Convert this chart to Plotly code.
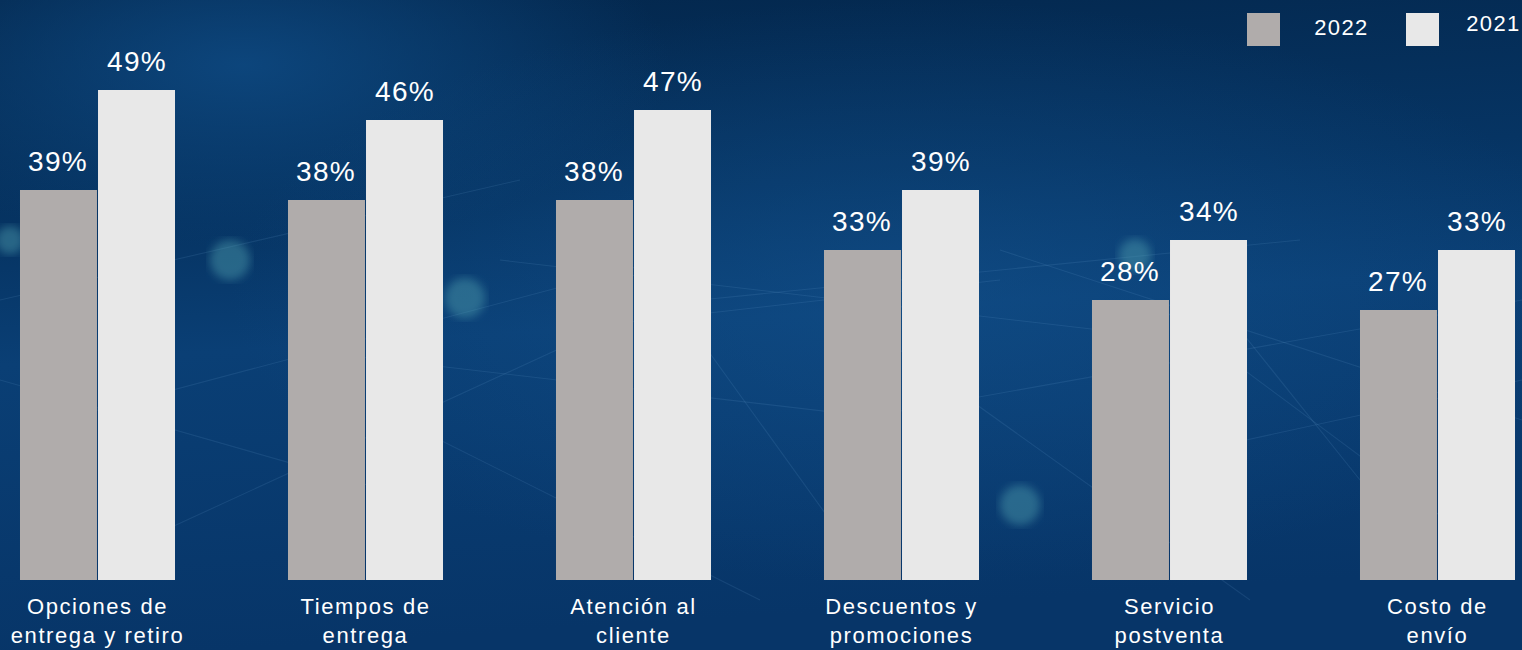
import base64
import plotly.graph_objects as go

# ---------------- data ----------------
categories = [
    "Opciones de<br>entrega y retiro",
    "Tiempos de<br>entrega",
    "Atención al<br>cliente",
    "Descuentos y<br>promociones",
    "Servicio<br>postventa",
    "Costo de<br>envío",
]
series_names = ["2022", "2021"]
values_2022 = [39, 38, 38, 33, 28, 27]
values_2021 = [49, 46, 47, 39, 34, 33]

# ---------------- style ----------------
COL_2022 = "#b0acab"
COL_2021 = "#e8e8e8"
FONT = "Liberation Sans, Arial, sans-serif"
W, H = 1522, 650
BAR_W = 0.2873
GAP = 0.0019

# decorative background (gradient + faint network), as an inline svg image
lines = [
    (0, 300, 520, 180), (60, 420, 700, 250), (300, 350, 900, 420), (500, 260, 1100, 330),
    (700, 300, 1300, 240), (850, 420, 1522, 300), (1000, 250, 1522, 420), (1150, 300, 1500, 560),
    (400, 420, 760, 600), (900, 350, 1250, 600), (100, 560, 600, 330), (1200, 450, 1522, 380),
    (650, 270, 830, 520), (1240, 330, 1360, 480), (0, 380, 420, 500), (560, 330, 1000, 280),
]
line_svg = "".join(
    f"<line x1='{a}' y1='{b}' x2='{c}' y2='{d}' stroke='#7fb0e0' stroke-opacity='0.13' stroke-width='1.1'/>"
    for a, b, c, d in lines
)
dots = [(230, 260, 20), (465, 298, 20), (1020, 505, 20), (1135, 255, 16), (10, 240, 14)]
dot_svg = "".join(
    f"<circle cx='{x}' cy='{y}' r='{r}' fill='#4f9fb0' fill-opacity='0.45' filter='url(#b)'/>"
    for x, y, r in dots
)
svg = f"""<svg xmlns='http://www.w3.org/2000/svg' width='{W}' height='{H}' viewBox='0 0 {W} {H}'>
<defs>
<linearGradient id='g' x1='0' y1='0' x2='0.15' y2='1'>
<stop offset='0' stop-color='#03264b'/>
<stop offset='0.35' stop-color='#063463'/>
<stop offset='0.55' stop-color='#0a3f75'/>
<stop offset='1' stop-color='#073568'/>
</linearGradient>
<radialGradient id='r1' cx='0.16' cy='0.1' r='0.28'>
<stop offset='0' stop-color='#0e4a83' stop-opacity='0.85'/>
<stop offset='1' stop-color='#0e4a83' stop-opacity='0'/>
</radialGradient>
<radialGradient id='r2' cx='0.6' cy='0.45' r='0.45'>
<stop offset='0' stop-color='#145490' stop-opacity='0.5'/>
<stop offset='1' stop-color='#145490' stop-opacity='0'/>
</radialGradient>
<filter id='b'><feGaussianBlur stdDeviation='4'/></filter>
</defs>
<rect width='{W}' height='{H}' fill='url(#g)'/>
<rect width='{W}' height='{H}' fill='url(#r1)'/>
<rect width='{W}' height='{H}' fill='url(#r2)'/>
{line_svg}
{dot_svg}
</svg>"""
bg_uri = "data:image/svg+xml;base64," + base64.b64encode(svg.encode()).decode()

x_idx = list(range(len(categories)))

fig = go.Figure()
fig.add_trace(go.Bar(
    x=x_idx, y=values_2022, name=series_names[0], marker_color=COL_2022,
    marker_line_width=0, width=BAR_W, offset=-BAR_W - GAP, hoverinfo="skip",
))
fig.add_trace(go.Bar(
    x=x_idx, y=values_2021, name=series_names[1], marker_color=COL_2021,
    marker_line_width=0, width=BAR_W, offset=GAP, hoverinfo="skip",
))

annotations = []
for i in x_idx:
    for val, off in ((values_2022[i], -BAR_W / 2 - GAP), (values_2021[i], BAR_W / 2 + GAP)):
        annotations.append(dict(
            x=i + off, y=val, xref="x", yref="y", text=f"{val}%", showarrow=False,
            yanchor="bottom", xanchor="center", yshift=11,
            font=dict(family=FONT, size=28, color="white"),
        ))

# custom legend (large squares)
plot_h = 580
def py(px):
    return 1 - px / plot_h

shapes = [
    dict(type="rect", xref="paper", yref="paper", x0=1247 / W, x1=1280 / W,
         y0=py(46), y1=py(13), fillcolor=COL_2022, line_width=0, layer="above"),
    dict(type="rect", xref="paper", yref="paper", x0=1406 / W, x1=1439 / W,
         y0=py(46), y1=py(13), fillcolor=COL_2021, line_width=0, layer="above"),
]
annotations.append(dict(x=1341 / W, y=py(28), xref="paper", yref="paper", text=series_names[0],
                        showarrow=False, xanchor="center", yanchor="middle",
                        font=dict(family=FONT, size=22, color="white")))
annotations.append(dict(x=1493 / W, y=py(23), xref="paper", yref="paper", text=series_names[1],
                        showarrow=False, xanchor="center", yanchor="middle",
                        font=dict(family=FONT, size=22, color="white")))

fig.update_layout(
    width=W, height=H,
    margin=dict(l=0, r=0, t=0, b=70, pad=0),
    paper_bgcolor="#073466",
    plot_bgcolor="rgba(0,0,0,0)",
    barmode="overlay",
    showlegend=False,
    hovermode=False,
    shapes=shapes,
    annotations=annotations,
    images=[dict(source=bg_uri, xref="paper", yref="paper", x=0, y=1,
                 sizex=1, sizey=H / plot_h, xanchor="left", yanchor="top",
                 sizing="stretch", layer="below")],
    font=dict(family=FONT, color="white"),
)
fig.update_xaxes(
    range=[-97.5 / 268, (W - 97.5) / 268],
    tickmode="array", tickvals=x_idx, ticktext=categories,
    tickfont=dict(family=FONT, size=22, color="white"),
    showgrid=False, zeroline=False, showline=False, ticks="",
    ticklabelstandoff=11, fixedrange=True,
)
fig.update_yaxes(range=[0, 58], visible=False, showgrid=False, zeroline=False, fixedrange=True)

post = """
(function(){
  function fix(){
    document.body.style.margin = '0';
    document.querySelectorAll('.xtick text').forEach(function(e){ e.style.letterSpacing = '1.6px'; });
    document.querySelectorAll('.annotation-text').forEach(function(e){ e.style.letterSpacing = '1.4px'; });
  }
  fix();
  setTimeout(fix, 30);
})();
"""
fig.write_html("out.html", post_script=post, config={"displayModeBar": False, "staticPlot": True})
